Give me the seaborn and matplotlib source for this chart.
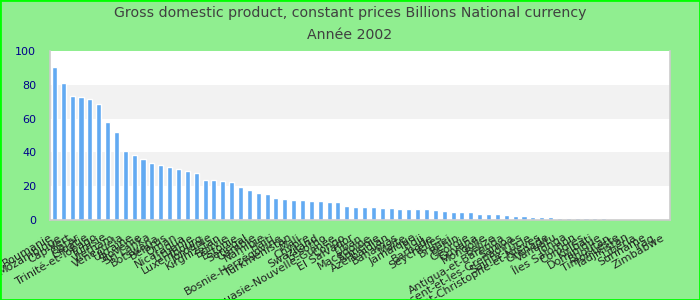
import matplotlib
matplotlib.use("Agg")
import matplotlib.pyplot as plt
import seaborn as sns
import pandas as pd
from matplotlib.patches import Rectangle

countries = [
    "Roumanie", "Mozambique", "Cap-Vert", "Qatar", "Croatie", "Trinité-et-Tobago",
    "Tunisie", "Vietnam", "Venezuela", "Ukraine", "Slovénie", "Sri Lanka",
    "Botswana", "Bélarus", "Oman", "Nicaragua", "Lituanie", "Luxembourg",
    "Jordanie", "Kirghizstan", "Bolivie", "Estonie", "Sénégal", "Gambie",
    "Namibie", "Haïti", "Bosnie-Herzégovine", "Turkménistan", "Mali", "Chypre",
    "Swaziland", "Lesotho", "Papouasie-Nouvelle-Guinée", "Congo", "El Salvador", "Liban",
    "Macédoine", "Arménie", "Azerbaïdjan", "Bahamas", "Malte", "Jamaïque",
    "Fidji", "Barbade", "Seychelles", "Brunei", "Bénin", "Géorgie",
    "Guyana", "Mongolie", "Belize", "Antigua-et-Barbuda", "Samoa",
    "Saint-Vincent-et-les-Grenadines", "Sainte-Lucie", "Saint-Christophe-et-Niévès",
    "Grenade", "Vanuatu", "Tonga", "Îles Salomon", "Comores", "Kiribati",
    "Dominique", "Bhoutan", "Timor-Leste", "Tadjikistan", "Libéria", "Suriname",
    "Iraq", "Zimbabwe",
]

values = [
    90.4, 80.9, 73.1, 72.5, 71.3, 68.4, 58.2, 52.2, 40.9, 38.5,
    36.1, 33.7, 32.5, 31.3, 30.1, 28.9, 27.7, 23.6, 23.6, 23.0,
    22.4, 19.4, 17.6, 15.8, 15.2, 12.8, 12.2, 11.6, 11.6, 11.0,
    11.0, 10.4, 10.4, 8.1, 7.5, 7.5, 7.5, 6.9, 6.9, 6.3,
    6.3, 6.3, 6.4, 6.0, 5.4, 4.5, 4.5, 4.5, 3.3, 3.3,
    3.3, 2.7, 2.1, 2.1, 1.5, 1.5, 1.5, 1.0, 1.0, 1.0,
    1.0, 1.0, 0.9, 0.0, 0.0, 0.0, 0.0, 0.0, 0.0, 0.0,
]

yticks = [0, 20, 40, 60, 80, 100]
title = "Gross domestic product, constant prices Billions National currency\nAnnée 2002"

df = pd.DataFrame({"country": countries, "value": values})

sns.set_style("white")
plt.rcParams["font.family"] = ["DejaVu Sans"]

fig = plt.figure(figsize=(7, 3), dpi=100, facecolor="#90EE90")
ax = fig.add_axes([0.0714, 0.267, 0.886, 0.563])
ax.set_facecolor("white")

for lo in (20, 60):
    ax.axhspan(lo, lo + 20, color="#f2f2f2", zorder=0, lw=0)

sns.barplot(data=df, x="country", y="value", color="#62aaf2", width=0.57,
            saturation=1, ax=ax, zorder=2)

ax.set_ylim(0, 100)
ax.set_xlim(-0.5, len(countries) - 0.5)
ax.set_yticks(yticks)
ax.set_yticklabels([str(t) for t in yticks], color="#00008B", fontsize=8)
ax.tick_params(axis="y", length=0, pad=10)
ax.tick_params(axis="x", length=0, pad=9)
ax.set_xticks(range(len(countries)))
ax.set_xticklabels(countries, rotation=30, ha="right", fontsize=8, color="#222222")
ax.set_xlabel("")
ax.set_ylabel("")
for side, sp in ax.spines.items():
    sp.set_visible(True)
    sp.set_color("#cccccc")
    sp.set_linewidth(1.2)
ax.spines["top"].set_visible(False)

fig.suptitle(title, fontsize=10.2, color="#404040", y=0.98, linespacing=1.75)

fig.patches.append(Rectangle((0, 0), 1, 1, transform=fig.transFigure,
                             fill=False, edgecolor="#00ff00", linewidth=2))

fig.savefig("out.png", dpi=100, facecolor=fig.get_facecolor())
